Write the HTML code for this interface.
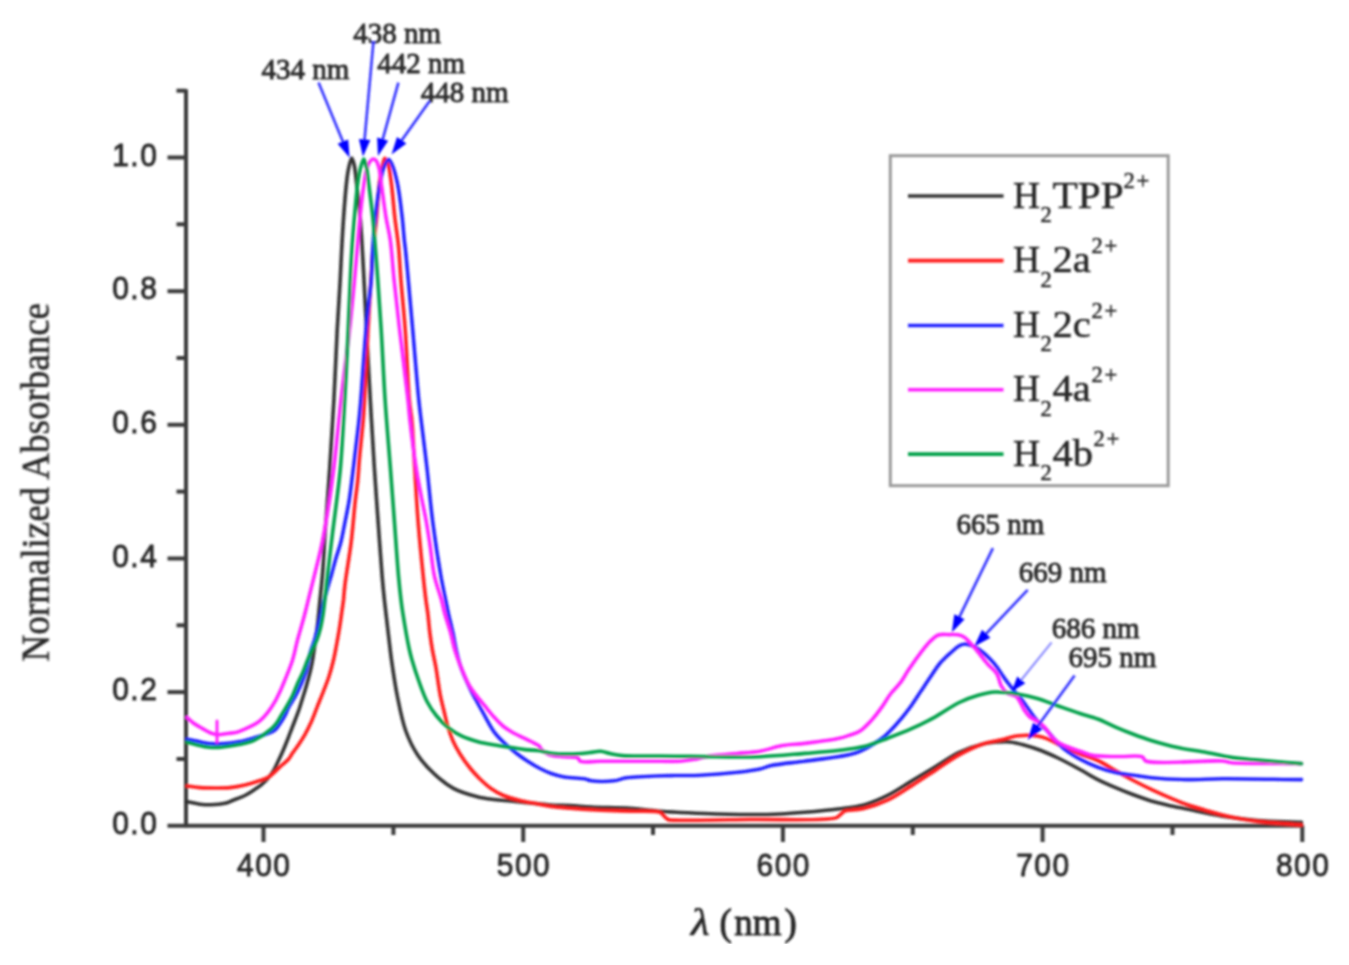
<!DOCTYPE html>
<html><head><meta charset="utf-8"><style>
html,body{margin:0;padding:0;background:#fff;}
body{width:1349px;height:965px;overflow:hidden;font-family:"Liberation Sans",sans-serif;}
svg{display:block;}
</style></head><body>
<svg width="1349" height="965" viewBox="0 0 1349 965">
<defs><filter id="bl" x="0" y="0" width="1" height="1"><feGaussianBlur stdDeviation="1"/></filter></defs>
<rect width="1349" height="965" fill="#fff"/>
<g filter="url(#bl)">
<g stroke="#3a3a3a" stroke-width="4" fill="none">
<line x1="186" y1="89.2" x2="186" y2="827.3"/>
<line x1="167.5" y1="825.8" x2="1303.5" y2="825.8"/>
<line x1="176.5" y1="759.0" x2="186" y2="759.0"/>
<line x1="167.5" y1="692.1" x2="186" y2="692.1"/>
<line x1="176.5" y1="625.3" x2="186" y2="625.3"/>
<line x1="167.5" y1="558.5" x2="186" y2="558.5"/>
<line x1="176.5" y1="491.6" x2="186" y2="491.6"/>
<line x1="167.5" y1="424.8" x2="186" y2="424.8"/>
<line x1="176.5" y1="358.0" x2="186" y2="358.0"/>
<line x1="167.5" y1="291.2" x2="186" y2="291.2"/>
<line x1="176.5" y1="224.3" x2="186" y2="224.3"/>
<line x1="167.5" y1="157.5" x2="186" y2="157.5"/>
<line x1="176.5" y1="90.7" x2="186" y2="90.7"/>
<line x1="263.5" y1="825.8" x2="263.5" y2="842"/>
<line x1="393.4" y1="825.8" x2="393.4" y2="835"/>
<line x1="523.2" y1="825.8" x2="523.2" y2="842"/>
<line x1="653.0" y1="825.8" x2="653.0" y2="835"/>
<line x1="782.9" y1="825.8" x2="782.9" y2="842"/>
<line x1="912.8" y1="825.8" x2="912.8" y2="835"/>
<line x1="1042.6" y1="825.8" x2="1042.6" y2="842"/>
<line x1="1172.5" y1="825.8" x2="1172.5" y2="835"/>
<line x1="1302.3" y1="825.8" x2="1302.3" y2="842"/>
</g>
<g font-family="Liberation Sans, sans-serif" font-size="32" fill="#2a2a2a" stroke="#2a2a2a" stroke-width="0.9" letter-spacing="1.6">
<text transform="translate(158.3 834.0) scale(0.935 1)" text-anchor="end">0.0</text>
<text transform="translate(158.3 700.3) scale(0.935 1)" text-anchor="end">0.2</text>
<text transform="translate(158.3 566.7) scale(0.935 1)" text-anchor="end">0.4</text>
<text transform="translate(158.3 433.0) scale(0.935 1)" text-anchor="end">0.6</text>
<text transform="translate(158.3 299.4) scale(0.935 1)" text-anchor="end">0.8</text>
<text transform="translate(158.3 165.7) scale(0.935 1)" text-anchor="end">1.0</text>
<text transform="translate(264.3 875.6) scale(0.935 1)" text-anchor="middle">400</text>
<text transform="translate(524.0 875.6) scale(0.935 1)" text-anchor="middle">500</text>
<text transform="translate(783.7 875.6) scale(0.935 1)" text-anchor="middle">600</text>
<text transform="translate(1043.4 875.6) scale(0.935 1)" text-anchor="middle">700</text>
<text transform="translate(1303.1 875.6) scale(0.935 1)" text-anchor="middle">800</text>
</g>
<g fill="none" stroke-width="3.6" stroke-linejoin="round" stroke-linecap="round">
<path d="M187.00,801.70 C191.33,802.53 195.83,803.69 200.00,804.20 C203.80,804.67 207.12,804.90 211.00,804.80 C215.39,804.69 221.12,804.23 225.00,803.30 C227.91,802.61 229.62,801.58 232.40,800.50 C236.03,799.09 241.22,797.33 244.90,795.50 C248.02,793.95 250.46,792.28 253.20,790.50 C256.00,788.68 258.98,786.82 261.50,784.70 C263.92,782.67 266.12,780.37 268.10,778.10 C269.96,775.96 271.55,774.01 273.10,771.50 C274.89,768.59 276.38,764.91 278.00,761.50 C279.68,757.98 281.37,754.43 283.00,750.70 C284.71,746.78 286.45,742.42 288.00,738.50 C289.43,734.88 290.71,731.36 292.00,728.00 C293.20,724.88 294.31,722.12 295.50,719.00 C296.78,715.64 298.22,711.97 299.40,708.50 C300.54,705.14 301.49,701.75 302.50,698.50 C303.46,695.42 304.36,692.69 305.30,689.50 C306.36,685.91 307.52,681.71 308.50,678.00 C309.41,674.56 310.29,671.16 311.00,668.00 C311.63,665.19 312.04,663.28 312.60,660.00 C313.49,654.84 314.64,646.19 315.50,640.00 C316.25,634.64 316.85,630.54 317.50,625.00 C318.30,618.16 319.00,610.11 319.80,602.00 C320.69,592.89 321.76,583.57 322.60,573.00 C323.61,560.30 324.17,546.47 325.20,531.00 C326.48,511.90 328.36,488.58 329.80,467.00 C331.27,444.93 332.68,422.58 333.90,400.00 C335.15,376.93 336.06,351.37 337.20,330.00 C338.17,311.93 339.42,294.41 340.20,280.00 C340.79,269.03 341.06,261.02 341.60,251.00 C342.18,240.21 342.80,228.60 343.60,217.40 C344.40,206.17 345.43,192.44 346.40,183.70 C347.02,178.11 347.38,174.37 348.30,170.00 C349.17,165.86 350.60,158.14 351.70,158.10 C352.55,158.07 353.50,162.09 354.20,165.00 C355.33,169.66 355.76,176.55 356.60,183.70 C357.73,193.29 359.23,206.17 360.20,217.40 C361.16,228.60 361.75,240.21 362.40,251.00 C363.00,261.02 363.42,269.02 364.00,280.00 C364.76,294.41 365.56,311.94 366.50,330.00 C367.61,351.38 368.98,376.92 370.30,400.00 C371.59,422.58 372.94,445.98 374.30,467.00 C375.51,485.70 376.72,502.09 378.00,520.00 C379.32,538.41 380.85,561.23 382.10,576.00 C382.92,585.68 383.68,593.22 384.40,600.00 C384.93,605.00 385.27,607.62 385.90,613.00 C386.93,621.84 388.96,639.38 390.00,648.00 C390.61,653.05 390.78,654.94 391.50,660.00 C392.76,668.79 394.91,684.13 397.30,696.00 C399.68,707.80 402.02,720.62 405.80,731.00 C409.06,739.95 412.84,747.75 417.70,755.00 C422.42,762.04 428.34,768.39 434.40,774.00 C440.27,779.44 446.38,784.54 453.40,788.30 C460.64,792.18 469.97,794.81 477.30,796.70 C483.29,798.24 488.45,798.78 494.00,799.50 C499.48,800.21 504.69,800.45 510.40,801.00 C516.64,801.60 523.37,802.34 530.00,803.00 C536.83,803.68 544.00,804.57 550.80,805.00 C557.32,805.41 563.44,805.27 570.00,805.60 C576.90,805.95 583.07,806.68 591.20,807.10 C602.19,807.67 617.91,807.63 630.00,808.40 C640.65,809.07 648.98,810.40 660.00,811.20 C673.48,812.17 690.08,812.95 705.00,813.50 C719.75,814.04 735.61,814.46 749.00,814.50 C760.24,814.54 770.27,814.41 780.00,814.00 C788.68,813.63 795.78,813.04 804.60,812.30 C814.89,811.44 827.60,810.32 838.00,809.00 C847.17,807.84 855.49,807.28 863.80,805.00 C872.05,802.73 879.89,799.28 887.70,795.40 C895.81,791.37 903.57,785.87 911.50,781.10 C919.43,776.33 927.36,771.56 935.30,766.80 C943.26,762.03 951.05,756.35 959.20,752.50 C966.97,748.83 975.64,745.72 983.00,744.00 C989.06,742.58 995.07,742.29 1000.00,742.00 C1003.77,741.78 1006.41,741.62 1010.00,742.00 C1014.30,742.46 1019.14,743.70 1024.00,745.00 C1029.43,746.46 1035.39,748.36 1041.00,750.50 C1046.72,752.68 1052.02,755.12 1058.00,758.00 C1064.91,761.33 1073.09,765.73 1080.00,769.50 C1086.28,772.92 1091.79,776.56 1097.80,779.60 C1103.66,782.57 1109.64,785.07 1115.60,787.60 C1121.51,790.10 1127.44,792.46 1133.40,794.70 C1139.31,796.92 1145.22,799.21 1151.20,801.00 C1157.09,802.77 1163.06,804.06 1169.00,805.40 C1174.89,806.73 1179.78,807.61 1186.70,809.00 C1196.51,810.98 1210.40,814.18 1222.30,816.10 C1234.13,818.01 1245.41,819.47 1257.90,820.50 C1271.68,821.63 1286.97,821.70 1301.50,822.30" stroke="#303030"/>
<path d="M187.00,786.00 C191.33,786.53 195.50,787.26 200.00,787.60 C204.81,787.96 210.00,788.00 215.00,788.00 C220.00,788.00 225.02,788.10 230.00,787.60 C235.02,787.10 240.31,786.09 245.00,785.00 C249.25,784.01 253.02,782.85 257.00,781.50 C261.05,780.12 265.22,779.21 269.10,776.80 C273.60,774.00 278.45,768.18 282.00,765.00 C284.46,762.80 286.53,761.52 288.30,759.50 C289.96,757.60 290.86,755.53 292.40,753.30 C294.25,750.61 296.65,747.55 298.70,744.50 C300.83,741.33 302.91,738.14 304.90,734.60 C307.06,730.75 309.12,726.62 311.10,722.20 C313.28,717.34 315.23,711.79 317.30,706.60 C319.36,701.42 321.54,696.15 323.50,691.10 C325.36,686.30 327.19,681.96 328.80,677.00 C330.55,671.64 332.19,665.51 333.50,660.00 C334.72,654.87 335.53,650.16 336.50,645.00 C337.53,639.52 338.61,633.59 339.50,628.00 C340.37,622.59 341.09,616.95 341.80,612.00 C342.41,607.71 343.50,600.00 343.50,600.00 C343.50,600.00 343.50,600.00 343.50,600.00 C343.50,600.00 344.21,590.70 345.00,584.20 C346.28,573.65 349.40,556.62 351.10,542.80 C352.80,529.02 353.93,512.94 355.20,501.40 C356.12,493.09 357.11,487.02 357.80,480.00 C358.46,473.23 358.63,467.81 359.30,460.00 C360.25,448.95 362.30,431.05 363.20,420.00 C363.83,412.20 364.00,408.69 364.50,400.00 C365.43,383.75 366.64,354.11 368.00,330.00 C369.45,304.22 371.21,270.76 373.00,250.00 C374.15,236.72 375.56,228.36 376.60,217.40 C377.66,206.27 378.22,192.23 379.30,183.70 C379.97,178.43 380.60,175.22 381.50,171.00 C382.40,166.75 383.35,158.49 384.70,158.30 C385.66,158.17 387.06,161.42 388.00,164.00 C389.63,168.50 390.38,176.24 391.40,183.70 C392.73,193.41 393.57,206.74 394.80,217.40 C395.92,227.07 397.42,235.24 398.40,245.00 C399.51,255.96 399.90,267.32 400.90,280.00 C402.09,295.10 403.90,311.61 405.20,329.60 C406.75,351.01 407.81,383.70 409.30,400.00 C410.10,408.71 411.05,411.90 411.80,420.00 C412.96,432.43 413.70,451.19 414.70,467.40 C415.76,484.48 416.62,502.20 418.00,520.00 C419.43,538.38 421.68,561.24 423.20,576.00 C424.19,585.68 425.03,593.18 425.90,600.00 C426.55,605.09 427.19,608.42 427.80,613.30 C428.54,619.26 429.08,626.80 429.90,633.20 C430.66,639.20 431.50,644.96 432.50,650.60 C433.45,655.98 434.61,660.25 435.70,666.30 C437.18,674.50 438.69,687.23 440.30,695.40 C441.49,701.43 442.73,705.77 444.00,711.00 C445.29,716.30 446.45,721.88 448.00,727.00 C449.47,731.86 451.00,736.49 453.00,741.00 C455.00,745.49 457.30,749.67 460.00,754.00 C462.91,758.67 466.54,763.71 470.00,768.00 C473.22,771.99 476.48,775.57 480.00,779.00 C483.48,782.39 487.07,785.74 491.00,788.50 C494.90,791.24 498.93,793.55 503.50,795.50 C508.51,797.63 514.43,799.12 520.00,800.50 C525.56,801.88 531.54,802.76 536.90,803.80 C541.76,804.75 545.77,805.78 550.80,806.50 C556.67,807.34 563.44,807.76 570.00,808.30 C576.89,808.87 583.07,809.38 591.20,809.80 C602.19,810.37 617.90,810.66 630.00,811.10 C640.64,811.49 655.32,810.40 660.00,812.30 C661.72,813.00 661.87,813.99 663.00,815.00 C664.45,816.31 666.30,818.70 668.00,819.50 C669.32,820.12 669.82,819.95 672.00,820.10 C681.59,820.78 723.39,819.85 750.00,819.50 C777.90,819.13 825.38,821.16 835.70,817.90 C838.24,817.10 838.57,816.07 840.00,815.00 C841.54,813.85 842.75,812.04 844.60,811.20 C846.67,810.26 849.24,810.40 852.00,810.00 C855.47,809.50 859.24,809.57 863.80,808.50 C870.44,806.94 879.93,803.84 887.70,800.20 C895.84,796.39 903.61,790.84 911.50,785.90 C919.48,780.91 927.36,775.56 935.30,770.40 C943.26,765.23 951.08,759.36 959.20,754.90 C966.99,750.62 975.45,746.58 983.00,744.00 C989.41,741.81 995.38,741.11 1001.40,739.70 C1007.20,738.34 1012.76,736.36 1018.50,735.70 C1024.16,735.05 1030.52,735.06 1035.60,735.70 C1039.79,736.23 1043.20,737.22 1046.90,738.60 C1050.77,740.05 1053.87,742.20 1058.30,744.30 C1064.35,747.16 1073.08,751.19 1080.00,754.00 C1086.18,756.51 1091.98,757.79 1097.80,760.50 C1103.86,763.32 1109.65,767.36 1115.60,770.70 C1121.52,774.03 1127.44,777.37 1133.40,780.50 C1139.30,783.60 1145.24,786.57 1151.20,789.40 C1157.10,792.20 1163.05,794.87 1169.00,797.40 C1174.88,799.90 1180.75,802.41 1186.70,804.50 C1192.58,806.57 1197.95,808.04 1204.50,809.90 C1212.48,812.17 1222.25,815.08 1231.20,817.00 C1240.05,818.90 1247.89,820.16 1257.90,821.40 C1270.63,822.97 1286.97,823.80 1301.50,825.00" stroke="#ff1c1c"/>
<path d="M187.00,739.20 C190.13,739.80 193.05,740.34 196.40,741.00 C200.27,741.76 204.72,743.04 208.90,743.50 C213.02,743.96 216.75,744.01 221.30,743.80 C226.90,743.54 234.25,742.69 240.00,741.60 C245.04,740.64 249.63,739.15 254.00,737.90 C257.90,736.78 261.47,735.84 265.00,734.50 C268.43,733.20 272.28,732.05 274.90,730.00 C277.24,728.17 278.61,725.64 280.30,723.20 C282.09,720.62 283.88,717.64 285.30,714.90 C286.61,712.38 287.19,710.11 288.60,707.40 C290.40,703.94 293.47,699.77 295.50,696.00 C297.40,692.48 299.09,688.73 300.50,685.50 C301.68,682.81 302.57,680.47 303.50,678.00 C304.39,675.63 305.24,673.62 306.00,671.00 C306.94,667.77 307.65,663.57 308.50,660.00 C309.32,656.58 310.01,653.31 311.00,650.00 C312.00,646.64 313.36,643.69 314.50,640.00 C315.88,635.53 317.30,629.83 318.50,625.00 C319.61,620.52 320.61,615.94 321.50,612.00 C322.24,608.73 322.70,606.27 323.50,603.00 C324.47,599.05 325.74,594.48 327.00,590.00 C328.36,585.17 329.94,580.16 331.40,575.00 C332.95,569.52 334.41,563.49 336.00,558.00 C337.51,552.78 339.28,548.30 340.70,542.80 C342.34,536.45 343.61,528.92 345.00,522.00 C346.38,515.12 347.81,508.71 349.00,501.40 C350.34,493.16 351.40,483.68 352.50,475.00 C353.57,466.56 354.47,458.71 355.50,450.00 C356.63,440.46 358.07,429.00 359.00,420.00 C359.76,412.67 360.09,408.70 360.80,400.00 C362.14,383.69 364.09,351.00 366.00,329.60 C367.61,311.61 370.10,294.34 371.20,280.00 C372.04,269.06 371.96,261.02 372.60,251.00 C373.29,240.21 374.07,228.59 375.30,217.40 C376.53,206.16 378.25,192.95 380.00,183.70 C381.24,177.13 382.17,171.35 384.00,167.00 C385.31,163.87 387.26,159.52 388.70,159.50 C389.89,159.49 390.93,162.18 392.00,164.50 C393.95,168.73 395.94,176.34 397.50,183.70 C399.53,193.30 401.02,207.27 402.20,217.40 C403.16,225.67 403.65,233.81 404.30,240.00 C404.76,244.32 405.12,246.46 405.60,251.00 C406.38,258.37 407.30,269.04 408.30,280.00 C409.60,294.33 411.12,311.62 412.70,329.60 C414.58,351.02 417.16,383.69 418.80,400.00 C419.68,408.71 420.14,411.92 421.10,420.00 C422.58,432.45 425.04,451.18 426.90,467.40 C428.85,484.47 430.22,502.22 432.50,520.00 C434.86,538.40 438.32,561.25 440.90,576.00 C442.60,585.69 444.32,593.17 445.70,600.00 C446.72,605.08 447.34,608.43 448.40,613.30 C449.70,619.28 451.68,626.94 453.00,633.20 C454.17,638.76 454.78,643.64 456.00,649.00 C457.29,654.66 458.55,660.29 460.60,666.30 C462.95,673.18 466.83,681.79 469.70,687.90 C471.89,692.56 473.82,695.93 476.00,700.00 C478.25,704.20 480.34,708.01 483.00,712.70 C486.35,718.61 490.39,727.02 494.60,732.60 C498.16,737.32 502.23,740.95 506.00,744.50 C509.36,747.67 512.50,750.28 516.00,753.00 C519.59,755.79 523.37,758.45 527.30,761.00 C531.36,763.63 535.84,766.35 540.00,768.50 C543.79,770.46 547.26,772.10 551.20,773.50 C555.34,774.97 559.42,776.14 564.30,777.00 C570.27,778.05 579.61,777.86 584.50,778.80 C587.37,779.35 588.26,780.37 591.20,780.80 C596.52,781.58 607.64,781.56 614.10,780.80 C618.96,780.23 621.17,778.59 626.70,777.80 C636.96,776.34 657.97,776.00 671.20,775.60 C681.84,775.28 689.75,775.76 700.00,775.30 C711.78,774.77 726.98,773.55 737.90,772.30 C746.27,771.34 753.91,770.37 760.00,769.00 C764.40,768.01 766.42,766.63 771.20,765.60 C779.31,763.85 793.47,762.68 804.60,761.20 C815.73,759.72 829.67,758.02 838.00,756.70 C843.01,755.90 846.21,755.45 850.00,754.50 C853.51,753.62 856.44,752.83 860.00,751.30 C864.47,749.39 870.16,746.12 874.50,743.40 C878.28,741.03 881.54,738.78 884.70,736.10 C887.83,733.44 890.45,730.56 893.40,727.40 C896.70,723.86 900.31,719.72 903.50,715.80 C906.60,711.98 909.44,708.23 912.30,704.20 C915.28,700.01 918.10,695.46 921.00,691.10 C923.90,686.76 926.67,682.55 929.70,678.10 C932.92,673.36 936.22,667.78 939.80,663.50 C943.02,659.66 946.53,656.49 950.00,653.40 C953.27,650.48 956.88,646.86 960.00,645.40 C962.21,644.36 963.91,643.88 966.30,644.10 C969.68,644.40 974.42,646.60 978.20,648.90 C982.36,651.43 986.70,655.73 990.00,659.00 C992.69,661.67 994.61,663.94 996.80,666.80 C999.19,669.93 1001.37,673.80 1003.70,677.10 C1005.93,680.26 1008.30,683.42 1010.50,686.20 C1012.45,688.66 1014.30,690.72 1016.20,693.00 C1018.10,695.29 1020.04,697.49 1021.90,699.90 C1023.84,702.41 1025.70,705.16 1027.60,707.80 C1029.50,710.46 1031.35,713.28 1033.30,715.80 C1035.15,718.20 1036.89,720.29 1039.00,722.60 C1041.37,725.21 1044.30,727.81 1046.90,730.60 C1049.60,733.50 1052.10,736.71 1054.90,739.70 C1057.79,742.78 1060.36,745.86 1064.00,748.80 C1068.43,752.37 1074.41,756.05 1080.00,759.10 C1085.67,762.19 1091.79,764.95 1097.80,767.20 C1103.66,769.39 1109.62,771.16 1115.60,772.50 C1121.49,773.82 1127.47,774.32 1133.40,775.20 C1139.33,776.08 1144.23,777.12 1151.20,777.80 C1160.99,778.76 1174.86,779.45 1186.70,779.60 C1198.56,779.75 1208.09,778.80 1222.30,778.70 C1243.49,778.55 1275.10,779.30 1301.50,779.60" stroke="#2222ff"/>
<path d="M187.00,717.40 C189.10,719.27 190.90,721.24 193.30,723.00 C196.02,725.00 199.59,726.88 202.60,728.60 C205.38,730.19 208.23,732.00 210.70,733.00 C212.61,733.78 214.55,734.21 216.00,734.50 C216.98,734.70 217.41,734.81 218.50,734.80 C220.57,734.78 224.47,733.91 227.50,733.50 C230.57,733.08 234.05,733.02 236.80,732.30 C239.12,731.69 240.75,730.76 243.00,729.80 C245.75,728.62 249.27,727.21 252.10,725.70 C254.74,724.29 257.11,723.04 259.50,721.10 C262.24,718.87 264.95,715.83 267.40,712.80 C269.97,709.62 272.33,706.10 274.50,702.40 C276.78,698.52 278.94,693.83 280.70,690.00 C282.18,686.79 283.04,684.62 284.50,681.00 C286.69,675.57 290.22,667.40 292.40,660.50 C294.54,653.73 295.64,647.01 297.50,640.00 C299.48,632.54 302.03,624.41 304.00,617.00 C305.83,610.11 307.26,603.97 309.00,597.00 C310.91,589.36 312.95,581.47 315.00,573.00 C317.30,563.52 319.87,553.69 322.10,542.80 C324.69,530.12 327.25,514.58 329.30,501.40 C331.16,489.42 332.39,480.38 334.00,467.00 C336.25,448.37 338.45,422.57 341.00,400.00 C343.61,376.91 347.13,351.39 349.50,330.00 C351.50,311.95 353.16,294.41 354.50,280.00 C355.52,269.03 356.12,261.02 357.00,251.00 C357.95,240.21 358.84,228.60 360.00,217.40 C361.17,206.17 362.59,192.79 364.00,183.70 C364.97,177.46 365.70,172.04 367.00,168.00 C367.87,165.30 368.80,163.07 370.00,161.50 C370.89,160.34 371.96,159.12 373.00,159.00 C373.96,158.89 375.14,159.56 376.00,160.50 C377.34,161.95 378.19,164.99 379.00,168.00 C380.14,172.22 380.41,177.48 381.30,183.70 C382.60,192.81 384.34,207.30 386.00,217.40 C387.37,225.70 389.07,231.37 390.30,240.00 C391.92,251.41 392.65,265.96 394.10,280.00 C395.71,295.65 397.53,311.63 399.60,329.60 C402.07,351.02 406.25,383.67 408.00,400.00 C408.93,408.69 408.99,411.93 409.90,420.00 C411.31,432.45 414.00,453.74 416.10,467.40 C417.71,477.86 419.31,486.04 421.00,495.00 C422.61,503.55 424.50,511.65 426.00,520.00 C427.50,528.32 428.67,536.21 430.00,545.00 C431.48,554.77 432.31,566.40 434.40,576.00 C436.27,584.58 439.68,593.20 441.50,600.00 C442.83,604.97 443.31,608.21 444.60,613.00 C446.22,619.02 448.93,626.69 450.70,633.20 C452.33,639.19 453.21,644.99 454.90,650.60 C456.53,656.01 458.35,660.80 460.60,666.30 C463.18,672.59 465.75,679.66 469.70,686.20 C474.10,693.48 481.78,702.04 486.30,707.70 C489.32,711.47 491.27,713.98 494.00,717.00 C496.80,720.09 499.88,723.49 502.90,726.00 C505.56,728.21 508.22,729.84 511.00,731.50 C513.75,733.14 516.44,734.36 519.50,735.90 C523.03,737.67 527.56,739.77 531.00,741.50 C533.83,742.93 536.89,743.91 538.70,745.50 C540.06,746.69 540.35,748.29 541.50,749.50 C542.74,750.81 544.42,752.04 546.00,753.00 C547.52,753.92 548.72,754.62 550.80,755.20 C554.23,756.15 560.40,756.34 565.00,756.80 C569.35,757.23 575.17,756.54 577.70,757.90 C579.18,758.69 578.80,760.53 580.40,761.30 C583.79,762.94 593.60,761.30 600.00,761.30 C606.15,761.30 611.22,761.31 618.10,761.30 C627.24,761.29 639.53,761.22 650.00,761.20 C660.15,761.18 672.00,761.68 680.00,761.20 C685.37,760.88 689.32,760.29 693.40,759.60 C696.88,759.01 699.73,758.16 703.00,757.50 C706.39,756.82 709.22,756.17 713.40,755.60 C719.66,754.75 729.19,754.24 737.00,753.50 C744.72,752.77 752.43,752.52 760.00,751.20 C767.56,749.88 774.90,746.90 782.40,745.60 C789.77,744.32 796.46,744.39 804.60,743.40 C814.61,742.19 829.71,740.43 838.00,738.60 C843.05,737.49 846.21,736.32 850.00,735.00 C853.51,733.77 856.74,733.08 860.00,731.00 C863.97,728.47 868.00,724.04 871.60,720.10 C875.27,716.09 878.62,711.51 881.80,707.10 C884.91,702.80 887.35,698.14 890.50,694.00 C893.62,689.91 897.64,686.38 900.60,682.40 C903.39,678.64 905.22,674.85 907.90,670.80 C910.95,666.20 914.42,661.07 918.00,656.30 C921.68,651.40 925.88,645.57 929.70,641.80 C932.64,638.90 935.10,636.20 938.40,635.00 C941.73,633.79 946.13,634.62 949.60,634.60 C952.60,634.58 955.47,634.32 958.00,634.80 C960.21,635.22 961.92,635.67 964.00,637.00 C967.01,638.92 970.12,642.73 973.50,646.50 C977.91,651.41 983.49,659.38 987.80,664.30 C991.06,668.01 994.54,670.08 996.80,673.70 C999.09,677.37 999.43,682.80 1001.40,686.20 C1003.01,688.98 1004.71,691.31 1007.10,693.00 C1009.60,694.77 1013.88,694.56 1016.20,696.40 C1018.34,698.10 1019.45,700.97 1020.80,703.30 C1022.10,705.54 1022.77,707.90 1024.20,710.10 C1025.75,712.48 1027.65,715.10 1029.90,717.00 C1032.17,718.91 1035.32,719.79 1037.80,721.50 C1040.26,723.19 1042.64,724.98 1044.70,727.20 C1046.86,729.52 1048.40,732.83 1050.40,735.20 C1052.22,737.35 1053.92,739.24 1056.10,740.90 C1058.42,742.67 1060.83,743.95 1064.00,745.40 C1068.33,747.39 1074.81,749.35 1080.00,751.10 C1084.86,752.74 1088.69,754.65 1094.20,755.60 C1101.45,756.85 1111.71,756.28 1120.00,756.50 C1127.70,756.70 1138.26,754.99 1142.30,756.90 C1144.29,757.84 1143.46,759.92 1145.80,761.00 C1154.62,765.07 1209.36,759.78 1222.30,761.00 C1226.75,761.42 1226.79,762.25 1231.20,762.70 C1243.47,763.94 1278.07,763.30 1301.50,763.60" stroke="#ff20ff"/>
<line x1="217" y1="721" x2="217" y2="742" stroke="#ff20ff" stroke-width="3"/>
<path d="M187.00,742.30 C190.13,743.10 193.03,743.93 196.40,744.70 C200.26,745.58 204.96,746.77 208.90,747.20 C212.37,747.58 215.17,747.61 218.80,747.40 C223.27,747.15 228.96,746.19 233.70,745.40 C238.06,744.67 242.55,743.85 246.20,742.90 C249.13,742.14 251.00,741.85 254.00,740.40 C258.83,738.07 267.65,731.98 271.60,728.60 C273.93,726.61 275.04,725.29 276.60,723.20 C278.38,720.81 279.89,717.58 281.50,714.90 C283.02,712.36 284.39,710.28 286.00,707.50 C288.03,704.00 290.61,699.64 292.60,695.50 C294.62,691.31 296.20,686.54 298.00,682.50 C299.60,678.90 301.26,675.97 302.80,672.40 C304.48,668.51 305.99,663.89 307.60,660.00 C309.06,656.47 310.47,653.32 312.00,650.00 C313.54,646.65 315.41,643.54 316.80,640.00 C318.28,636.23 319.48,632.13 320.50,628.00 C321.56,623.71 322.24,619.64 323.00,614.70 C323.94,608.57 324.70,600.90 325.50,594.00 C326.30,587.10 326.87,581.42 327.80,573.30 C329.13,561.69 331.22,543.84 332.80,531.00 C334.13,520.25 335.36,511.64 336.60,501.40 C337.93,490.37 339.32,480.38 340.50,467.00 C342.14,448.37 343.43,422.58 344.70,400.00 C346.00,376.93 347.22,351.38 348.20,330.00 C349.03,311.94 349.62,294.41 350.30,280.00 C350.81,269.02 351.15,261.02 351.80,251.00 C352.50,240.21 353.42,228.60 354.40,217.40 C355.38,206.17 356.48,192.62 357.70,183.70 C358.51,177.78 359.15,173.39 360.30,169.00 C361.27,165.30 362.74,158.99 363.80,159.00 C364.71,159.01 365.58,163.45 366.30,166.50 C367.36,171.02 367.83,177.01 368.70,183.70 C369.92,193.06 371.65,206.16 372.80,217.40 C373.95,228.60 374.74,240.21 375.60,251.00 C376.40,261.02 377.01,269.02 377.80,280.00 C378.84,294.41 380.08,311.93 381.20,330.00 C382.52,351.37 383.56,376.93 385.10,400.00 C386.61,422.59 388.69,445.97 390.30,467.00 C391.73,485.70 392.95,502.09 394.30,520.00 C395.69,538.41 397.18,561.24 398.50,576.00 C399.37,585.68 400.18,593.22 401.00,600.00 C401.61,605.00 401.95,607.63 402.80,613.00 C404.20,621.85 407.17,639.41 409.00,648.00 C410.08,653.07 410.69,655.45 412.00,660.00 C413.77,666.16 416.46,674.50 419.00,681.50 C421.47,688.33 423.86,695.51 427.00,701.50 C429.82,706.88 433.00,711.60 436.60,716.00 C440.09,720.27 444.01,724.25 448.20,727.60 C452.29,730.86 456.61,733.59 461.40,735.90 C466.49,738.35 472.41,740.18 478.00,741.70 C483.48,743.19 489.06,744.03 494.60,745.00 C500.12,745.96 505.92,746.70 511.20,747.50 C516.01,748.23 520.29,749.05 525.00,749.60 C529.89,750.17 535.43,750.11 540.00,750.80 C543.92,751.39 546.36,752.65 550.80,753.20 C557.72,754.05 570.47,754.22 577.70,753.90 C582.60,753.69 586.05,752.97 590.00,752.50 C593.67,752.07 597.19,751.00 600.60,751.20 C603.85,751.39 606.64,752.80 610.00,753.50 C613.81,754.29 617.06,755.13 622.30,755.60 C631.41,756.42 646.21,755.84 660.00,756.00 C676.76,756.19 698.19,756.59 715.70,756.70 C731.31,756.80 745.22,757.25 760.00,756.70 C774.85,756.15 790.81,754.51 804.60,753.40 C816.54,752.44 827.60,751.74 838.00,750.50 C847.17,749.41 855.46,748.68 863.80,746.60 C872.02,744.55 879.77,741.17 887.70,738.20 C895.67,735.21 903.64,732.23 911.50,728.70 C919.51,725.11 927.44,721.11 935.30,716.80 C943.34,712.39 951.53,706.21 959.20,702.50 C965.75,699.33 972.00,697.07 978.20,695.30 C983.88,693.68 988.83,692.31 994.90,692.00 C1002.06,691.63 1011.12,693.02 1018.50,694.20 C1025.16,695.27 1030.92,696.64 1037.30,698.50 C1044.16,700.50 1051.24,703.52 1058.30,706.00 C1065.47,708.52 1073.11,711.24 1080.00,713.50 C1086.21,715.53 1091.94,716.77 1097.80,719.00 C1103.81,721.28 1109.64,724.54 1115.60,727.10 C1121.51,729.64 1127.44,732.06 1133.40,734.30 C1139.31,736.52 1144.63,738.48 1151.20,740.50 C1159.14,742.94 1168.88,745.68 1177.80,747.60 C1186.65,749.50 1195.61,750.37 1204.50,752.00 C1213.41,753.64 1222.27,756.05 1231.20,757.40 C1240.07,758.74 1247.91,759.19 1257.90,760.10 C1270.66,761.26 1286.97,762.43 1301.50,763.60" stroke="#00a048"/>
</g>
<g font-family="Liberation Serif, serif" font-size="29" fill="#2a2a2a" stroke="#2a2a2a" stroke-width="0.9">
<text x="261.5" y="79.3">434 nm</text>
<text x="353.3" y="42.7">438 nm</text>
<text x="377.2" y="72.5">442 nm</text>
<text x="420.8" y="101.6">448 nm</text>
<text x="956.5" y="533.5">665 nm</text>
<text x="1018.7" y="582.2">669 nm</text>
<text x="1051.7" y="638">686 nm</text>
<text x="1068.5" y="667">695 nm</text>
</g>
<line x1="318.5" y1="82.6" x2="343.7" y2="143.5" stroke="#3030ff" stroke-width="2.6"/><polygon points="349.6,157.8 337.6,143.8 348.2,139.4" fill="#0000ff"/>
<line x1="373.5" y1="41.0" x2="364.4" y2="141.4" stroke="#3030ff" stroke-width="2.6"/><polygon points="363.0,156.8 358.9,138.9 370.3,139.9" fill="#0000ff"/>
<line x1="398.4" y1="82.6" x2="382.2" y2="141.1" stroke="#3030ff" stroke-width="2.6"/><polygon points="378.0,156.0 377.1,137.6 388.2,140.7" fill="#0000ff"/>
<line x1="429.5" y1="101.3" x2="400.5" y2="141.9" stroke="#3030ff" stroke-width="2.6"/><polygon points="391.5,154.5 397.0,136.9 406.4,143.6" fill="#0000ff"/>
<line x1="992.9" y1="548.1" x2="958.6" y2="618.6" stroke="#3030ff" stroke-width="2.6"/><polygon points="951.8,632.5 954.3,614.2 964.6,619.3" fill="#0000ff"/>
<line x1="1027.7" y1="589.8" x2="984.8" y2="635.2" stroke="#3030ff" stroke-width="2.6"/><polygon points="974.2,646.5 982.0,629.8 990.4,637.7" fill="#0000ff"/>
<line x1="1051.6" y1="642.4" x2="1020.0" y2="681.5" stroke="#8c8cff" stroke-width="2.2"/><polygon points="1011.8,691.6 1017.2,676.6 1025.3,683.2" fill="#0000ff"/>
<line x1="1074.6" y1="675.4" x2="1036.7" y2="727.5" stroke="#3030ff" stroke-width="2.6"/><polygon points="1027.6,740.0 1033.2,722.5 1042.5,729.2" fill="#0000ff"/>
<rect x="890.3" y="155.7" width="277.9" height="330" fill="none" stroke="#9a9a9a" stroke-width="3"/>
<line x1="908" y1="196.0" x2="1003.5" y2="196.0" stroke="#303030" stroke-width="3.6"/>
<g font-family="Liberation Serif, serif" fill="#262626" stroke="#262626" stroke-width="0.5">
<text x="1013" y="207.6" font-size="37.5">H</text>
<text x="1040.5" y="221.9" font-size="22.5">2</text>
<text transform="translate(1052.6 207.6) scale(1.1 1)" font-size="37.5">TPP</text>
<text x="1123.5" y="188.1" font-size="22.5">2</text>
<text x="1136.5" y="188.1" font-size="22.5">+</text>
</g>
<line x1="908" y1="260.6" x2="1003.5" y2="260.6" stroke="#ff1c1c" stroke-width="3.6"/>
<g font-family="Liberation Serif, serif" fill="#262626" stroke="#262626" stroke-width="0.5">
<text x="1013" y="272.2" font-size="37.5">H</text>
<text x="1040.5" y="286.5" font-size="22.5">2</text>
<text transform="translate(1052.5 272.2) scale(1.08 1)" font-size="37.5">2a</text>
<text x="1091.5" y="252.7" font-size="22.5">2</text>
<text x="1104.5" y="252.7" font-size="22.5">+</text>
</g>
<line x1="908" y1="325.5" x2="1003.5" y2="325.5" stroke="#2222ff" stroke-width="3.6"/>
<g font-family="Liberation Serif, serif" fill="#262626" stroke="#262626" stroke-width="0.5">
<text x="1013" y="337.1" font-size="37.5">H</text>
<text x="1040.5" y="351.4" font-size="22.5">2</text>
<text transform="translate(1052.5 337.1) scale(1.08 1)" font-size="37.5">2c</text>
<text x="1091.5" y="317.6" font-size="22.5">2</text>
<text x="1104.5" y="317.6" font-size="22.5">+</text>
</g>
<line x1="908" y1="389.8" x2="1003.5" y2="389.8" stroke="#ff20ff" stroke-width="3.6"/>
<g font-family="Liberation Serif, serif" fill="#262626" stroke="#262626" stroke-width="0.5">
<text x="1013" y="401.4" font-size="37.5">H</text>
<text x="1040.5" y="415.7" font-size="22.5">2</text>
<text transform="translate(1052.5 401.4) scale(1.08 1)" font-size="37.5">4a</text>
<text x="1091.5" y="381.9" font-size="22.5">2</text>
<text x="1104.5" y="381.9" font-size="22.5">+</text>
</g>
<line x1="908" y1="454.1" x2="1003.5" y2="454.1" stroke="#00a048" stroke-width="3.6"/>
<g font-family="Liberation Serif, serif" fill="#262626" stroke="#262626" stroke-width="0.5">
<text x="1013" y="465.7" font-size="37.5">H</text>
<text x="1040.5" y="480.0" font-size="22.5">2</text>
<text transform="translate(1052.5 465.7) scale(1.08 1)" font-size="37.5">4b</text>
<text x="1093.5" y="446.2" font-size="22.5">2</text>
<text x="1106.5" y="446.2" font-size="22.5">+</text>
</g>
<text transform="translate(48.5 482.2) scale(1.08 1) rotate(-90)" text-anchor="middle" font-family="Liberation Serif, serif" font-size="37" fill="#262626" stroke="#262626" stroke-width="0.5">Normalized Absorbance</text>
<text transform="translate(691 934.8) scale(1.15 1)" font-family="Liberation Serif, serif" font-size="37" font-style="italic" fill="#262626" stroke="#262626" stroke-width="0.7">&#955;</text>
<text x="719.5" y="934.8" font-family="Liberation Serif, serif" font-size="37" fill="#262626" stroke="#262626" stroke-width="0.9">(</text>
<text x="734.2" y="934.8" font-family="Liberation Serif, serif" font-size="37" fill="#262626" stroke="#262626" stroke-width="0.9">nm</text>
<text x="784.4" y="934.8" font-family="Liberation Serif, serif" font-size="37" fill="#262626" stroke="#262626" stroke-width="0.9">)</text>
</g>
</svg>
</body></html>
